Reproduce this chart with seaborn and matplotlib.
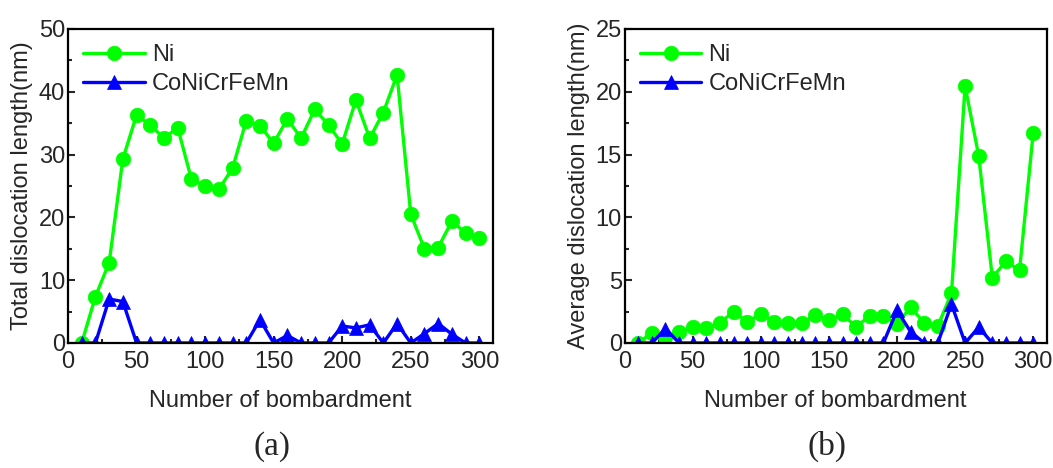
import numpy as np
import pandas as pd
import matplotlib
matplotlib.use("Agg")
import matplotlib.pyplot as plt
import seaborn as sns
from matplotlib.ticker import MultipleLocator

sns.set_style("white")
plt.rcParams['font.family'] = ['Liberation Sans', 'DejaVu Sans']

bombardment = list(range(10, 301, 10))

total_ni = [0, 7.4, 12.8, 29.3, 36.3, 34.7, 32.6, 34.3, 26.1, 25.0,
            24.5, 27.8, 35.4, 34.6, 31.8, 35.7, 32.6, 37.2, 34.7, 31.7,
            38.7, 32.6, 36.7, 42.7, 20.5, 15.0, 15.2, 19.4, 17.5, 16.7]
total_hea = [0, 0, 7.0, 6.6, 0, 0, 0, 0, 0, 0,
             0, 0, 0, 3.7, 0, 1.2, 0, 0, 0, 2.7,
             2.4, 2.9, 0, 3.1, 0, 1.5, 3.1, 1.4, 0, 0]

avg_ni = [0, 0.82, 0.45, 0.9, 1.3, 1.17, 1.6, 2.5, 1.7, 2.3,
          1.7, 1.57, 1.57, 2.23, 1.83, 2.28, 1.3, 2.15, 2.15, 1.5,
          2.84, 1.6, 1.35, 3.95, 20.46, 14.9, 5.2, 6.5, 5.8, 16.7]
avg_hea = [0, 0, 1.15, 0, 0, 0, 0, 0, 0, 0,
           0, 0, 0, 0, 0, 0, 0, 0, 0, 2.6,
           0.9, 0, 0, 3.1, 0, 1.25, 0, 0, 0, 0]

series_names = ['Ni', 'CoNiCrFeMn']
y_labels = ['Total dislocation length(nm)', 'Average dislocation length(nm)']
panel_labels = ['(a)', '(b)']
x_label = 'Number of bombardment'

GREEN = '#00FF00'
BLUE = '#0000FF'
FS = 17

fig = plt.figure(figsize=(10.53, 4.68), dpi=100)
ax1 = fig.add_axes([0.0646, 0.2671, 0.4036, 0.671])
ax2 = fig.add_axes([0.5932, 0.2671, 0.4009, 0.671])

panels = [
    (ax1, total_ni, total_hea, 50, 10, 5),
    (ax2, avg_ni, avg_hea, 25, 5, 2.5),
]

for i, (ax, ni, hea, ymax, ymaj, ymin) in enumerate(panels):
    sns.lineplot(x=bombardment, y=ni, ax=ax, color=GREEN, marker='o',
                 markersize=10.5, markeredgecolor=GREEN, markeredgewidth=0.5,
                 linewidth=2.4, label=series_names[0])
    sns.lineplot(x=bombardment, y=hea, ax=ax, color=BLUE, marker='^',
                 markersize=10, markeredgecolor=BLUE, markeredgewidth=0.5,
                 linewidth=2.4, label=series_names[1])
    ax.set_xlim(0, 310)
    ax.set_ylim(0, ymax)
    ax.xaxis.set_major_locator(MultipleLocator(50))
    ax.xaxis.set_minor_locator(MultipleLocator(25))
    ax.yaxis.set_major_locator(MultipleLocator(ymaj))
    ax.yaxis.set_minor_locator(MultipleLocator(ymin))
    ax.tick_params(axis='both', which='major', direction='in', length=5,
                   width=1.5, labelsize=FS, bottom=True, left=True,
                   top=False, right=False)
    ax.tick_params(axis='both', which='minor', direction='in', length=3,
                   width=1.5, bottom=True, left=True, top=False, right=False)
    ax.tick_params(axis='x', which='major', pad=6)
    ax.tick_params(axis='y', which='major', pad=2)
    for s in ax.spines.values():
        s.set_linewidth(1.6)
        s.set_color('black')
    ax.set_xlabel(x_label, fontsize=FS, labelpad=12)
    ax.set_ylabel(y_labels[i], fontsize=FS, labelpad=4)
    leg = ax.legend(loc='upper left', frameon=False, fontsize=FS,
                    handlelength=2.6, labelspacing=0.3, borderaxespad=0.25,
                    handletextpad=0.3)
    ax.text(0.48, -0.33, panel_labels[i], transform=ax.transAxes,
            ha='center', va='center', fontsize=24,
            family=['Liberation Serif', 'DejaVu Serif'])

fig.savefig('out.png', dpi=100)
